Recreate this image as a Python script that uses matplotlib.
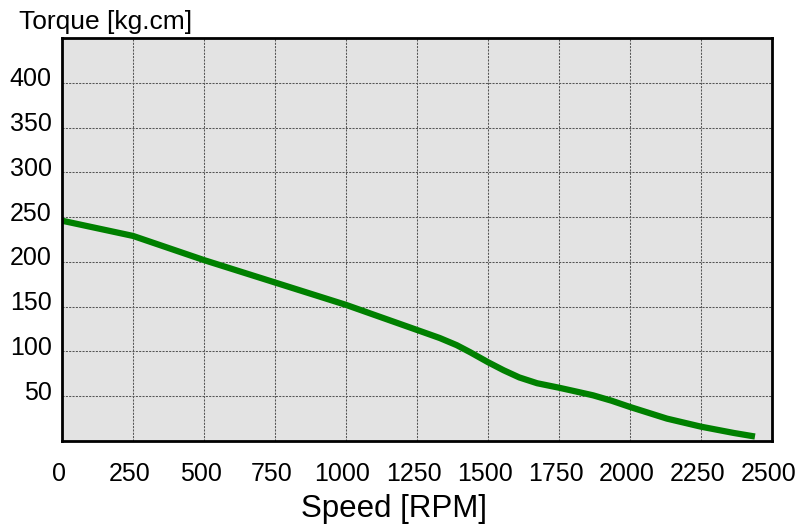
import matplotlib
matplotlib.use("Agg")
import matplotlib.pyplot as plt
import matplotlib.transforms as mtransforms

plt.rcParams['font.family'] = ['Liberation Sans', 'DejaVu Sans']

speed = [0, 250, 500, 750, 1000, 1250, 1330, 1390, 1438, 1500, 1555, 1610, 1673, 1750, 1814, 1870, 1935, 2000, 2130, 2250, 2365, 2440]
torque = [246, 229, 202, 177, 152, 124, 115, 107, 99, 88, 79, 71, 64.5, 59.5, 55, 51, 45, 38, 25, 16, 9, 5]

xticks = [0, 250, 500, 750, 1000, 1250, 1500, 1750, 2000, 2250, 2500]
yticks = [50, 100, 150, 200, 250, 300, 350, 400]

fig = plt.figure(figsize=(8.05, 5.30), dpi=100)
ax = fig.add_axes([62/805, 1-441/530, (772-62)/805, (441-38)/530])
ax.set_facecolor('#e3e3e3')

ax.plot(speed, torque, color='#008000', lw=4.5, solid_capstyle='butt', solid_joinstyle='round')

ax.set_xlim(0, 2500)
ax.set_ylim(0, 450)
ax.set_xticks(xticks)
ax.set_yticks(yticks)
ax.set_xticklabels([str(v) for v in xticks])
ax.set_yticklabels([str(v) for v in yticks])
ax.tick_params(axis='both', length=0, labelsize=18)
ax.tick_params(axis='x', pad=15)
ax.tick_params(axis='y', pad=7.5)

ax.grid(True, color='#555555', linestyle=(0, (2, 1.2)), linewidth=0.75)
ax.set_axisbelow(True)

for s in ax.spines.values():
    s.set_color('black')
    s.set_linewidth(2)

dy = mtransforms.ScaledTranslation(0, 6/100, fig.dpi_scale_trans)
for lab in ax.get_yticklabels():
    lab.set_transform(lab.get_transform() + dy)
dx = mtransforms.ScaledTranslation(-3.5/100, 0, fig.dpi_scale_trans)
for lab in ax.get_xticklabels():
    lab.set_transform(lab.get_transform() + dx)

fig.text(19/805, (530-29.5)/530, 'Torque [kg.cm]', fontsize=19, ha='left', va='baseline')
fig.text(393.5/805, (530-517.3)/530, 'Speed [RPM]', fontsize=22.5, ha='center', va='baseline')

fig.savefig('out.png', dpi=100)
